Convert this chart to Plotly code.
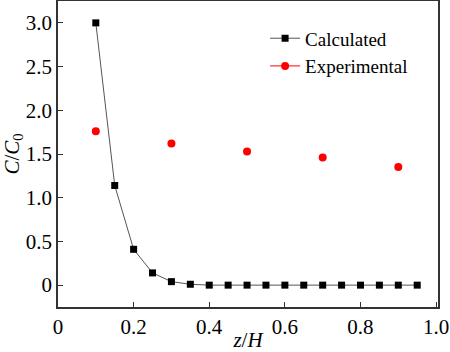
import plotly.graph_objects as go

calc_x = [0.10, 0.15, 0.20, 0.25, 0.30, 0.35, 0.40, 0.45, 0.50, 0.55, 0.60, 0.65, 0.70, 0.75, 0.80, 0.85, 0.90, 0.95]
calc_y = [3.00, 1.14, 0.41, 0.14, 0.04, 0.01, 0.0, 0.0, 0.0, 0.0, 0.0, 0.0, 0.0, 0.0, 0.0, 0.0, 0.0, 0.0]
exp_x = [0.1, 0.3, 0.5, 0.7, 0.9]
exp_y = [1.76, 1.62, 1.53, 1.46, 1.35]

x_ticks = [0, 0.2, 0.4, 0.6, 0.8, 1.0]
x_labels = ["0", "0.2", "0.4", "0.6", "0.8", "1.0"]
y_ticks = [0, 0.5, 1.0, 1.5, 2.0, 2.5, 3.0]
y_labels = ["0", "0.5", "1.0", "1.5", "2.0", "2.5", "3.0"]

font = "Liberation Serif"

# experimental points separated by gaps so no connecting line is drawn,
# while the legend still shows the line + marker symbol
exp_x_gapped, exp_y_gapped = [], []
for xv, yv in zip(exp_x, exp_y):
    exp_x_gapped += [xv, None]
    exp_y_gapped += [yv, None]

fig = go.Figure()
fig.add_trace(go.Scatter(x=calc_x, y=calc_y, mode="lines+markers", name="Calculated",
                         line=dict(color="#555555", width=1),
                         marker=dict(symbol="square", size=7, color="black")))
fig.add_trace(go.Scatter(x=exp_x_gapped, y=exp_y_gapped, mode="lines+markers", name="Experimental",
                         connectgaps=False,
                         line=dict(color="red", width=1),
                         marker=dict(symbol="circle", size=8, color="red")))

axis_common = dict(showline=True, linecolor="#333333", linewidth=1.5, mirror=True,
                   ticks="inside", ticklen=5, tickcolor="#333333", showgrid=False,
                   zeroline=False, automargin=False,
                   tickfont=dict(family=font, size=21, color="black"))

fig.update_layout(
    width=450, height=352,
    margin=dict(l=58, r=12, t=1, b=45),
    plot_bgcolor="white", paper_bgcolor="white",
    font=dict(family=font, color="black"),
    xaxis=dict(range=[0, 1.005], tickvals=x_ticks, ticktext=x_labels,
               title=dict(text="<i>z</i>/<i>H</i>", font=dict(family=font, size=21), standoff=0),
               **axis_common),
    yaxis=dict(range=[-0.25, 3.25], tickvals=y_ticks, ticktext=y_labels,
               title=dict(text="<i>C</i>/<i>C</i><sub>0</sub>", font=dict(family=font, size=21), standoff=2),
               **axis_common),
    legend=dict(x=0.545, y=0.94, xanchor="left", yanchor="top", bgcolor="rgba(0,0,0,0)",
                font=dict(family=font, size=19), tracegroupgap=0, itemwidth=30),
)
fig.write_html("out.html")
